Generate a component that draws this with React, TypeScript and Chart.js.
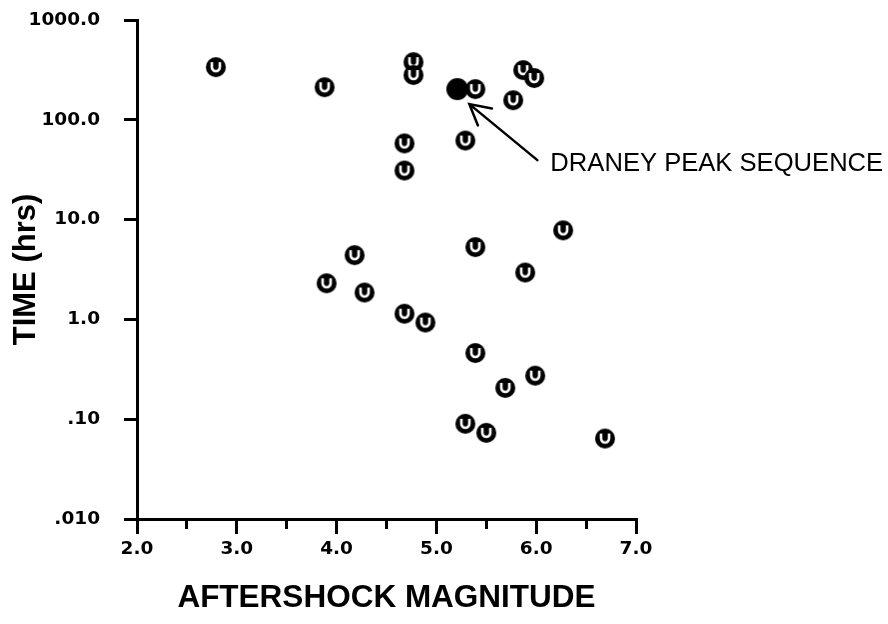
import React, { useEffect, useRef } from 'react';
import { Chart, registerables } from 'chart.js';

Chart.register(...registerables);

// Aftershock data (magnitude vs. time after mainshock, hrs)
const magnitudes = [2.79, 3.88, 4.77, 4.77, 4.68, 4.68, 5.39, 5.29, 5.77, 5.87, 5.98, 6.27, 5.39, 4.18, 3.9, 4.28, 5.89, 4.68, 4.89, 5.39, 5.69, 5.99, 5.29, 5.5, 6.69];
const timesHrs = [337, 212, 378, 281, 58, 31, 203, 62, 157, 315, 262, 7.8, 5.3, 4.4, 2.3, 1.86, 2.95, 1.14, 0.93, 0.46, 0.206, 0.273, 0.09, 0.073, 0.064];
const draneyMagnitude = [5.21];
const draneyTime = [203];

const xTickValues = [2, 3, 4, 5, 6, 7];
const xTickLabels = ['2.0', '3.0', '4.0', '5.0', '6.0', '7.0'];
const yTickValues = [0.01, 0.1, 1, 10, 100, 1000];
const yTickLabels = ['.010', '.10', '1.0', '10.0', '100.0', '1000.0'];

const xTitle = 'AFTERSHOCK MAGNITUDE';
const yTitle = 'TIME (hrs)';
const annotationText = 'DRANEY PEAK SEQUENCE';

function makeMarker(filled: boolean): HTMLCanvasElement {
  const c = document.createElement('canvas');
  c.width = 24;
  c.height = 24;
  const g = c.getContext('2d')!;
  g.translate(12, 12);
  g.fillStyle = '#000';
  g.beginPath();
  g.arc(0, 0, filled ? 11 : 10, 0, Math.PI * 2);
  g.fill();
  if (!filled) {
    g.strokeStyle = '#fff';
    g.lineWidth = 2.6;
    g.beginPath();
    g.moveTo(-4, -5);
    g.lineTo(-4, 0);
    g.arc(0, 0, 4, Math.PI, 0, true);
    g.lineTo(4, -5);
    g.stroke();
  }
  return c;
}

const annotationPlugin = {
  id: 'draneyNote',
  afterDatasetsDraw(chart: any) {
    const meta = chart.getDatasetMeta(1);
    const pt = meta && meta.data && meta.data[0];
    if (!pt) return;
    const ctx = chart.ctx;
    const tipX = pt.x + 12;
    const tipY = pt.y + 15;
    const endX = pt.x + 80;
    const endY = pt.y + 71;
    ctx.save();
    ctx.strokeStyle = '#000';
    ctx.lineWidth = 2.5;
    ctx.lineCap = 'round';
    ctx.beginPath();
    ctx.moveTo(endX, endY);
    ctx.lineTo(tipX, tipY);
    const ang = Math.atan2(endY - tipY, endX - tipX);
    const len = 23;
    const spread = 0.5;
    ctx.moveTo(tipX + Math.cos(ang - spread) * len, tipY + Math.sin(ang - spread) * len);
    ctx.lineTo(tipX, tipY);
    ctx.lineTo(tipX + Math.cos(ang + spread) * len, tipY + Math.sin(ang + spread) * len);
    ctx.stroke();
    ctx.fillStyle = '#000';
    ctx.font = '25.6px "Liberation Sans", Arial, sans-serif';
    ctx.textAlign = 'left';
    ctx.textBaseline = 'middle';
    ctx.fillText(annotationText, pt.x + 93, pt.y + 75);
    ctx.restore();
  },
};

export default function App() {
  const canvasRef = useRef<HTMLCanvasElement | null>(null);

  useEffect(() => {
    if (!canvasRef.current) return;
    const hollow = makeMarker(false);
    const solid = makeMarker(true);
    const tickFont = { family: '"DejaVu Sans", Verdana, sans-serif', size: 18.5, weight: 'bold' as const };
    const chart = new Chart(canvasRef.current, {
      type: 'scatter',
      data: {
        datasets: [
          {
            label: 'Aftershocks',
            data: magnitudes.map((m, i) => ({ x: m, y: timesHrs[i] })),
            pointStyle: hollow,
            pointRadius: 10,
          },
          {
            label: 'Draney Peak',
            data: draneyMagnitude.map((m, i) => ({ x: m, y: draneyTime[i] })),
            pointStyle: solid,
            pointRadius: 11,
          },
        ],
      },
      options: {
        animation: false,
        responsive: false,
        layout: { padding: { top: 20, right: 252, left: 0, bottom: 0 } },
        plugins: { legend: { display: false }, tooltip: { enabled: false } },
        scales: {
          x: {
            type: 'linear',
            position: 'bottom',
            weight: 1,
            min: 2,
            max: 7,
            afterBuildTicks: (scale: any) => {
              scale.ticks = xTickValues.map((v) => ({ value: v }));
            },
            afterFit: (scale: any) => {
              scale.height = 105;
              scale.paddingLeft = 0;
              scale.paddingRight = 0;
            },
            ticks: {
              autoSkip: false,
              maxRotation: 0,
              color: '#000',
              font: tickFont,
              padding: 4,
              callback: (v: any) => {
                const i = xTickValues.indexOf(Number(v));
                return i >= 0 ? xTickLabels[i] : '';
              },
            },
            grid: {
              drawOnChartArea: false,
              color: '#000',
              tickColor: '#000',
              tickLength: 15,
              tickWidth: 3,
              lineWidth: 3,
            },
            border: { display: true, color: '#000', width: 3 },
            title: {
              display: true,
              text: xTitle,
              color: '#000',
              font: { family: '"Liberation Sans", Arial, sans-serif', size: 31.5, weight: 'bold' },
              padding: { top: 0, bottom: 7 },
            },
          },
          xMinor: {
            type: 'linear',
            position: 'bottom',
            weight: 0,
            min: 2,
            max: 7,
            afterBuildTicks: (scale: any) => {
              const t: any[] = [];
              for (let i = 0; i < xTickValues.length - 1; i++) {
                t.push({ value: (xTickValues[i] + xTickValues[i + 1]) / 2 });
              }
              scale.ticks = t;
            },
            afterFit: (scale: any) => {
              scale.height = 0;
              scale.paddingLeft = 0;
              scale.paddingRight = 0;
            },
            ticks: { display: false },
            grid: {
              drawOnChartArea: false,
              color: '#000',
              tickColor: '#000',
              tickLength: 10,
              tickWidth: 3,
              lineWidth: 3,
            },
            border: { display: false },
          },
          y: {
            type: 'logarithmic',
            position: 'left',
            min: 0.01,
            max: 1000,
            afterBuildTicks: (scale: any) => {
              scale.ticks = yTickValues.map((v) => ({ value: v }));
            },
            afterFit: (scale: any) => {
              scale.width = 137;
              scale.paddingTop = 0;
              scale.paddingBottom = 0;
            },
            ticks: {
              autoSkip: false,
              color: '#000',
              font: tickFont,
              padding: 24,
              callback: (v: any) => {
                const n = Number(v);
                const i = yTickValues.findIndex((t) => Math.abs(t - n) / t < 1e-6);
                return i >= 0 ? yTickLabels[i] : '';
              },
            },
            grid: {
              drawOnChartArea: false,
              color: '#000',
              tickColor: '#000',
              tickLength: 13,
              tickWidth: 3,
              lineWidth: 3,
            },
            border: { display: true, color: '#000', width: 3 },
            title: {
              display: true,
              text: yTitle,
              color: '#000',
              font: { family: '"Liberation Sans", Arial, sans-serif', size: 31, weight: 'bold' },
              padding: { top: 8, bottom: 0 },
            },
          },
        },
      },
      plugins: [annotationPlugin],
    } as any);
    return () => chart.destroy();
  }, []);

  return (
    <div style={{ position: 'fixed', left: 0, top: 0, width: 888, height: 624, background: '#fff' }}>
      <canvas ref={canvasRef} width={888} height={624} style={{ display: 'block' }} />
    </div>
  );
}
